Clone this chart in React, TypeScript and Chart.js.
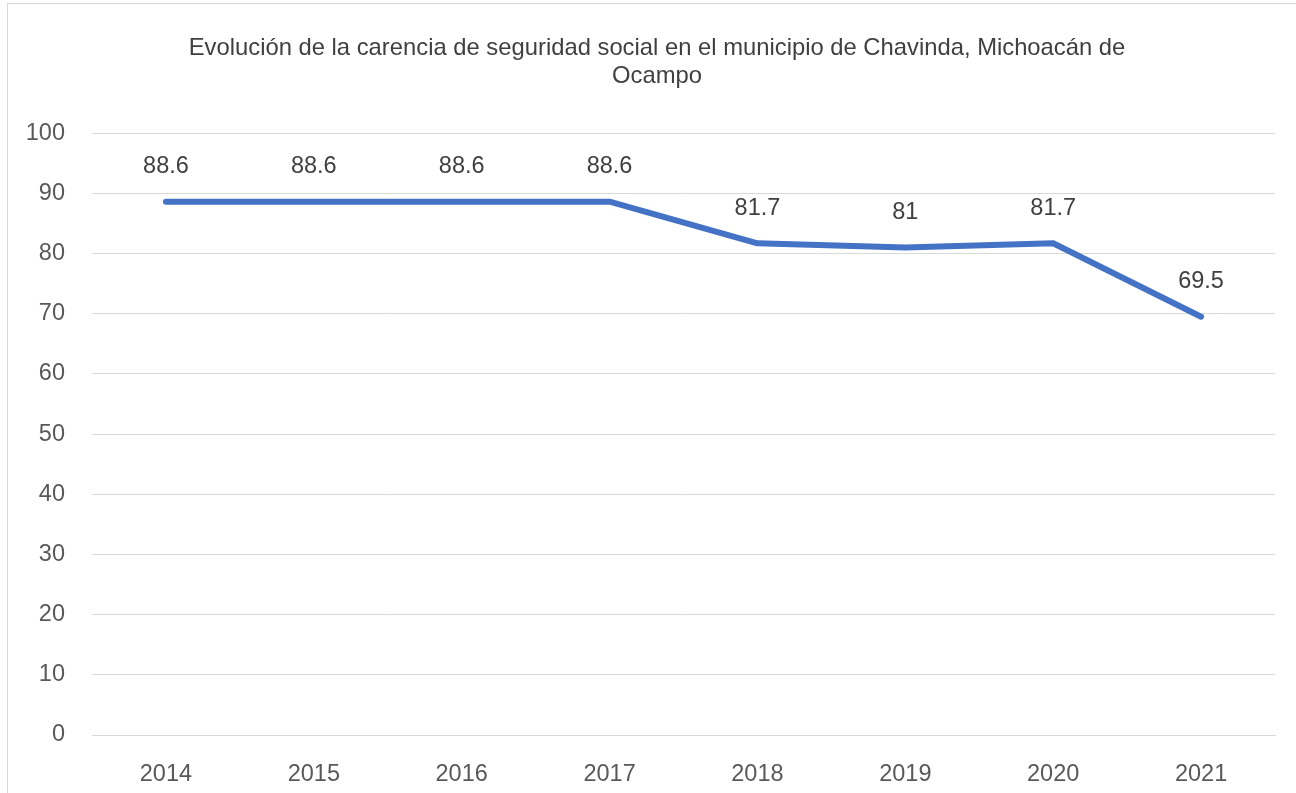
import React, { useEffect, useRef } from "react";
import { Chart, registerables } from "chart.js";

Chart.register(...registerables);

const categories = ["2014", "2015", "2016", "2017", "2018", "2019", "2020", "2021"];
const values = [88.6, 88.6, 88.6, 88.6, 81.7, 81, 81.7, 69.5];
const titleLines = [
  "Evolución de la carencia de seguridad social en el municipio de Chavinda, Michoacán de",
  "Ocampo",
];

const FONT = "'Liberation Sans', Arial, sans-serif";

const dataLabelPlugin = {
  id: "dataLabels",
  afterLayout(chart: any) {
    // center the title over the region the reference uses
    if (chart.titleBlock) chart.titleBlock.left = 39;
  },
  afterDatasetsDraw(chart: any) {
    const ctx = chart.ctx;
    const meta = chart.getDatasetMeta(0);
    const ds = chart.data.datasets[0];
    ctx.save();
    ctx.font = `23.5px ${FONT}`;
    ctx.fillStyle = "#404040";
    ctx.textAlign = "center";
    ctx.textBaseline = "middle";
    meta.data.forEach((el: any, i: number) => {
      ctx.fillText(String(ds.data[i]), el.x, el.y - 35);
    });
    ctx.restore();
  },
};

export default function App() {
  const ref = useRef<HTMLCanvasElement | null>(null);
  useEffect(() => {
    if (!ref.current) return;
    const chart = new Chart(ref.current, {
      type: "line",
      data: {
        labels: categories,
        datasets: [
          {
            data: values,
            borderColor: "#4472C4",
            backgroundColor: "#4472C4",
            borderWidth: 6,
            borderCapStyle: "round",
            borderJoinStyle: "round",
            pointRadius: 0,
            pointHoverRadius: 0,
            tension: 0,
          },
        ],
      },
      options: {
        responsive: false,
        animation: false,
        layout: { padding: { left: 0, right: 21, top: 0, bottom: 0 } },
        plugins: {
          legend: { display: false },
          tooltip: { enabled: false },
          title: {
            display: true,
            text: titleLines,
            color: "#404040",
            font: { family: FONT, size: 23.8, weight: "normal", lineHeight: 1.2 },
            padding: { top: 34, bottom: 42 },
          },
        },
        scales: {
          x: {
            offset: true,
            grid: { display: false, drawTicks: false, offset: true },
            border: { display: true, color: "#d9d9d9", width: 1 },
            ticks: { color: "#595959", font: { family: FONT, size: 23.5 }, padding: 25 },
            afterFit(scale: any) {
              scale.height = 58;
            },
          },
          y: {
            min: 0,
            max: 100,
            grid: { color: "#d9d9d9", drawTicks: false },
            border: { display: false },
            ticks: { stepSize: 10, color: "#595959", font: { family: FONT, size: 23.5 }, padding: 27 },
            afterFit(scale: any) {
              scale.width = 92;
            },
          },
        },
      },
      plugins: [dataLabelPlugin],
    });
    return () => chart.destroy();
  }, []);

  return (
    <div style={{ position: "fixed", left: 0, top: 0, width: 1296, height: 793, background: "#fff", overflow: "hidden" }}>
      <div
        style={{
          position: "absolute",
          left: 7,
          top: 3,
          width: 1300,
          height: 800,
          border: "1px solid #d9d9d9",
          boxSizing: "border-box",
        }}
      />
      <canvas ref={ref} width={1296} height={793} style={{ position: "absolute", left: 0, top: 0, width: 1296, height: 793 }} />
    </div>
  );
}
